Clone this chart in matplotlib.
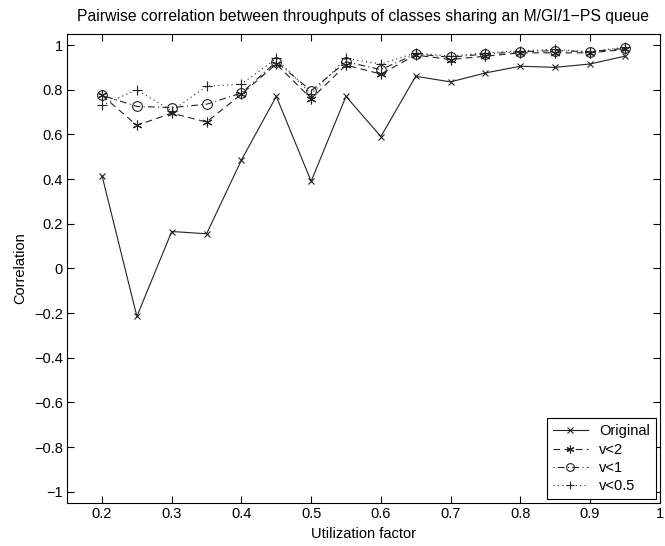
import matplotlib
matplotlib.use("Agg")
import matplotlib.pyplot as plt

plt.rcParams['font.family'] = ['Liberation Sans', 'DejaVu Sans']

util = [0.2, 0.25, 0.3, 0.35, 0.4, 0.45, 0.5, 0.55, 0.6, 0.65, 0.7, 0.75, 0.8, 0.85, 0.9, 0.95]
original = [0.415, -0.215, 0.165, 0.155, 0.485, 0.77, 0.39, 0.77, 0.59, 0.86, 0.835, 0.875, 0.905, 0.9, 0.915, 0.95]
v2 = [0.775, 0.64, 0.695, 0.655, 0.78, 0.915, 0.76, 0.91, 0.87, 0.955, 0.935, 0.95, 0.965, 0.965, 0.965, 0.98]
v1 = [0.775, 0.725, 0.72, 0.735, 0.785, 0.925, 0.795, 0.925, 0.89, 0.96, 0.945, 0.96, 0.97, 0.975, 0.97, 0.985]
v05 = [0.73, 0.8, 0.705, 0.815, 0.825, 0.94, 0.78, 0.94, 0.915, 0.965, 0.95, 0.965, 0.975, 0.98, 0.97, 0.99]

fig = plt.figure(figsize=(6.65, 5.46), dpi=100)
ax = fig.add_axes([0.101, 0.079, 0.891, 0.859])

ax.plot(util, original, color='#222222', lw=0.8, marker='x', ms=5, mew=0.8, label='Original')
ax.plot(util, v2, color='#222222', lw=0.8, ls=(0, (6, 4)), marker=(6, 2, 0), ms=7, mew=0.8, label='v<2')
ax.plot(util, v1, color='#222222', lw=0.8, ls=(0, (1, 3, 6, 3)), marker='o', ms=7, mfc='none', mew=0.8, label='v<1')
ax.plot(util, v05, color='#222222', lw=0.8, ls=(0, (1, 3)), marker='+', ms=7, mew=0.8, label='v<0.5')

ax.set_xlim(0.15, 1)
ax.set_ylim(-1.05, 1.05)
ax.set_xticks([0.2, 0.3, 0.4, 0.5, 0.6, 0.7, 0.8, 0.9, 1])
ax.set_xticklabels(['0.2', '0.3', '0.4', '0.5', '0.6', '0.7', '0.8', '0.9', '1'])
ax.set_yticks([-1, -0.8, -0.6, -0.4, -0.2, 0, 0.2, 0.4, 0.6, 0.8, 1])
ax.set_yticklabels(['\u22121', '\u22120.8', '\u22120.6', '\u22120.4', '\u22120.2', '0', '0.2', '0.4', '0.6', '0.8', '1'])
ax.tick_params(direction='in', top=True, right=True, labelsize=10.5, length=5, pad=3)
ax.set_xlabel('Utilization factor', fontsize=10.5, labelpad=4)
ax.set_ylabel('Correlation', fontsize=10.5, labelpad=5)
ax.set_title('Pairwise correlation between throughputs of classes sharing an M/GI/1\u2212PS queue',
             fontsize=11.3, pad=9)

leg = ax.legend(loc='lower right', fontsize=10.5, fancybox=False, edgecolor='black', framealpha=1,
                handlelength=2.4, handletextpad=0.8, markerscale=0.8, borderpad=0.4,
                labelspacing=0.3, borderaxespad=0.25)
leg.get_frame().set_linewidth(0.8)

fig.savefig('out.png', dpi=100)
